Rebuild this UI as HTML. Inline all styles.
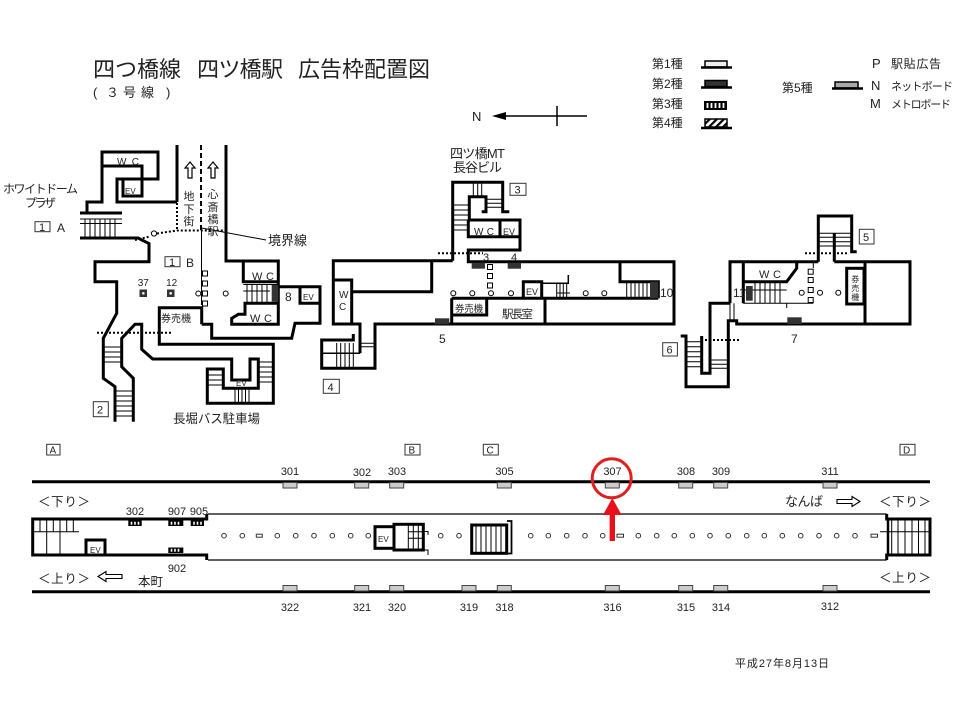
<!DOCTYPE html>
<html><head><meta charset="utf-8">
<style>
html,body{margin:0;padding:0;background:#fff;}
svg{display:block;}
text{font-family:"Liberation Sans","Noto Sans CJK JP",sans-serif;fill:#222;}
</style></head><body>
<svg width="960" height="720" viewBox="0 0 960 720" xmlns="http://www.w3.org/2000/svg">
<defs>
<pattern id="hatch" width="5" height="5" patternUnits="userSpaceOnUse" patternTransform="rotate(45)">
<rect width="5" height="5" fill="#fff"/><rect width="2.2" height="5" fill="#000"/>
</pattern>
</defs>
<rect width="960" height="720" fill="#fff"/>

<!-- Title -->
<text x="93" y="77" font-size="22" textLength="88">四つ橋線</text>
<text x="197" y="77" font-size="22" textLength="86">四ツ橋駅</text>
<text x="298" y="77" font-size="22" textLength="132">広告枠配置図</text>
<g font-size="13">
<text x="93" y="97">(</text><text x="106" y="97">３</text><text x="123" y="97">号</text><text x="141" y="97">線</text><text x="166" y="97">)</text>
</g>

<!-- North arrow -->
<text x="472" y="121" font-size="13">N</text>
<path d="M500,116 H587 M557,106 V126" stroke="#000" stroke-width="1.5" fill="none"/>
<polygon points="492,116 506,112 506,120" fill="#000"/>

<!-- Legend -->
<g font-size="12">
<text x="652" y="68">第1種</text>
<text x="652" y="88">第2種</text>
<text x="652" y="108">第3種</text>
<text x="652" y="127">第4種</text>
<text x="782" y="92">第5種</text>
<text x="872" y="68" font-size="13">P</text>
<text x="891" y="68" font-size="12" textLength="50">駅貼広告</text>
<text x="871" y="90" font-size="13">N</text>
<text x="891" y="90" font-size="11" textLength="62">ネットボード</text>
<text x="870" y="108" font-size="13">M</text>
<text x="891" y="108" font-size="11" textLength="60">メトロボード</text>
</g>
<rect x="705" y="61" width="22" height="6" fill="#eee" stroke="#000" stroke-width="1.5"/>
<path d="M701,67.5 H732" stroke="#000" stroke-width="2.5"/>
<rect x="705" y="80.5" width="22" height="6" fill="#333" stroke="#000" stroke-width="1.5"/>
<path d="M701,87.5 H732" stroke="#000" stroke-width="2.5"/>
<rect x="704" y="101" width="23" height="9" fill="#000"/>
<path d="M707.5,103 V108 M711.5,103 V108 M715.5,103 V108 M719.5,103 V108 M723.5,103 V108" stroke="#fff" stroke-width="1.8"/>
<rect x="705" y="119" width="22" height="8" fill="url(#hatch)" stroke="#000" stroke-width="1.5"/>
<path d="M701,128 H732" stroke="#000" stroke-width="2.5"/>
<rect x="835" y="82" width="23" height="6" fill="#aaa" stroke="#000" stroke-width="1.5"/>
<path d="M832,88.5 H863" stroke="#000" stroke-width="2.5"/>

<!-- ============ LEFT STRUCTURE ============ -->
<g fill="none" stroke="#000" stroke-width="3" stroke-linejoin="miter">
<path d="M87,213 V202 H102 V152 H158 V179 H117 V202 H177"/>
<path d="M177,145 V202"/>
<path d="M102,166 H142 V196 H123 V179"/>
<path d="M80,213 H122"/>
<path d="M80,238 H138 L149,243.5 V261.7 H95 V281.7 H116.7 V313.3 L103.3,338.3 V378.3 L115,386.7 V421.7"/>
<path d="M226,145 V261 H278.3 V324.3 H231.7 V318.3 L238.3,314.3 H245 V303.3 H278.3"/>
<path d="M278.3,286.7 H320 V323.3 H295 L291.7,338.3 H211.7 V324.3 H201.7"/>
<path d="M243.3,261 V281.7 H278.3"/>
<path d="M300,286.7 V303.3 H320"/>
<path d="M201.7,324.3 V307.7 H159.3 V344.3 H273.3 V403.3 H207.3 V369 H223.3 V388.3 H258.3 V359 H250 V380 H231.7 V359 H152.7 L141.7,349.3 V324.3 H135 L121.7,338.3 V366.7 L133.3,378.3 V421.7"/>
</g>
<!-- left thin details -->
<g fill="none" stroke="#000" stroke-width="1">
<path d="M80,219 H122 M80,223.5 H122"/>
<path d="M85,219 V237 M90,219 V237 M95,219 V237 M100,219 V237 M105,219 V237 M110,219 V237 M115,219 V237"/>
<path d="M103.3,347 H121.7 M103.3,352 H121.7 M103.3,357 H121.7 M103.3,362 H121.7"/>
<path d="M115,391 H133.3 M115,396 H133.3 M115,401 H133.3 M115,406 H133.3 M115,411 H133.3 M115,416 H133.3"/>
<path d="M207.3,375 H223.3 M207.3,380 H223.3 M207.3,385 H223.3"/>
<path d="M258.3,362 H273.3 M258.3,367 H273.3 M258.3,372 H273.3 M258.3,377 H273.3 M258.3,382 H273.3"/>
<path d="M235,388.3 V403 M238.5,388.3 V403 M242,388.3 V403 M245.5,388.3 V403 M249,388.3 V403"/>
<path d="M243.3,284.5 H278.3 M243.3,291 H270"/>
<path d="M247,285 V302 M252,285 V302 M257,285 V302 M262,285 V302 M267,285 V302"/>
<path d="M201.5,230 V305"/>
<path d="M201.7,228 L266,240"/>
</g>
<rect x="271.7" y="285" width="6.6" height="16.7" fill="#333"/>
<path d="M201,145 V230" stroke="#000" stroke-width="2" stroke-dasharray="5,3"/>
<path d="M177,203 V230" stroke="#000" stroke-width="2" stroke-dasharray="2,2"/>
<path d="M135,240 L149,236.7 M157,233.5 L177,230.5 H227" stroke="#000" stroke-width="2" stroke-dasharray="2,2" fill="none"/>
<circle cx="154" cy="233.5" r="2.6" fill="#fff" stroke="#000" stroke-width="1"/>
<path d="M97,332.7 H172" stroke="#000" stroke-width="2" stroke-dasharray="2,2"/>
<!-- up arrows -->
<g fill="#fff" stroke="#000" stroke-width="1.2">
<polygon points="190,162 195,168 192,168 192,178 188,178 188,168 185,168"/>
<polygon points="213,162 218,168 215,168 215,178 211,178 211,168 208,168"/>
</g>
<!-- concourse markers -->
<g fill="#fff" stroke="#000" stroke-width="1">
<rect x="202.5" y="271" width="5" height="5"/><rect x="202.5" y="281" width="5" height="5"/>
<rect x="202.5" y="291" width="5" height="5"/><rect x="202.5" y="301" width="5" height="5"/>
<circle cx="198.3" cy="293.5" r="2.5"/><circle cx="225.7" cy="293.5" r="2.5"/>
</g>
<rect x="139.5" y="289.5" width="7.5" height="7.5" fill="#333"/><circle cx="143.3" cy="293.3" r="1.3" fill="#fff"/>
<rect x="167" y="289.5" width="7.5" height="7.5" fill="#333"/><circle cx="170.7" cy="293.3" r="1.3" fill="#fff"/>
<g fill="#fff" stroke="#333" stroke-width="1">
<rect x="35" y="221.7" width="15" height="10"/>
<rect x="165" y="256.7" width="15" height="10"/>
<rect x="93.3" y="401.7" width="15" height="15"/>
</g>
<g font-size="11">
<text x="3" y="193" textLength="75" font-size="12">ホワイトドーム</text>
<text x="25" y="207" font-size="12" textLength="31">プラザ</text>
<text x="39" y="231" font-size="11">1</text><text x="57" y="232" font-size="12">A</text>
<text x="169" y="266" font-size="11">1</text><text x="186" y="267" font-size="12">B</text>
<text x="97" y="413.5" font-size="11">2</text>
<text x="117" y="165" font-size="10" textLength="22">W C</text>
<text x="125" y="194" font-size="8">EV</text>
<text x="189" y="200" font-size="11" text-anchor="middle">地</text>
<text x="189" y="213" font-size="11" text-anchor="middle">下</text>
<text x="189" y="225" font-size="11" text-anchor="middle">街</text>
<text x="213" y="198" font-size="11" text-anchor="middle">心</text>
<text x="213" y="211" font-size="11" text-anchor="middle">斎</text>
<text x="213" y="223" font-size="11" text-anchor="middle">橋</text>
<text x="213" y="235" font-size="11" text-anchor="middle">駅</text>
<text x="268" y="245" font-size="13" textLength="39">境界線</text>
<text x="143.3" y="286" font-size="10" text-anchor="middle" fill="#333">37</text>
<text x="171.7" y="286" font-size="10" text-anchor="middle" fill="#333">12</text>
<text x="252" y="280" font-size="11" textLength="22">W C</text>
<text x="250" y="322" font-size="11" textLength="22">W C</text>
<text x="285" y="301" font-size="12" fill="#444">8</text>
<text x="303" y="300" font-size="8">EV</text>
<text x="161" y="322" font-size="10" textLength="30">券売機</text>
<text x="236" y="386" font-size="8">EV</text>
<text x="173" y="423" font-size="12.5" textLength="87">長堀バス駐車場</text>
</g>

<!-- ============ MIDDLE STRUCTURE ============ -->
<g fill="none" stroke="#000" stroke-width="3">
<path d="M452.7,260.7 V182.3 H502.7 V211.7 H509.3"/>
<path d="M481.7,211.7 H486 V196.7 H469.3 V220"/>
<path d="M468.3,220 H520 V250 H468.3 V261.7 H674 V324 H375 V368.3 H321.7 V340 H353.3 V334"/>
<path d="M468.3,220 V236.7 H520 M500,220 V236.7"/>
<path d="M452.7,260.7 H333.3 V324 H360 V353.3"/>
<path d="M333.3,280 H351.7 V324"/>
<path d="M351.7,291.7 H431.7 V260.7"/>
<path d="M451.7,298.3 H658.3"/>
<path d="M451.7,324 V298.3 M451.7,315 H486.7 V298.3"/>
<path d="M545,298.3 V324"/>
<path d="M523.3,298.3 V281.7 H541.7 V298.3"/>
<path d="M620,261.7 V281.7 H658.3 V298.3"/>
</g>
<g fill="none" stroke="#000" stroke-width="1">
<path d="M473.3,182.3 V196.7 M477.7,182.3 V196.7 M481.7,182.3 V196.7"/>
<path d="M486,199.3 H502.7 M486,203.3 H502.7 M486,207.3 H502.7"/>
<path d="M452.7,205 H469.3 M452.7,210 H469.3 M452.7,215 H469.3 M452.7,220 H469.3 M452.7,225 H469.3 M452.7,230 H469.3"/>
<path d="M321.7,353.3 H360" stroke-width="1.5"/>
<path d="M336.7,343 V368 M340.7,343 V368 M345,343 V368 M349.3,343 V368 M353.3,343 V368"/>
<path d="M360,343.3 H375 M360,346.7 H375"/>
<path d="M541.7,283.3 H568.3 V275" stroke-width="1.5"/>
<path d="M556.7,283.3 V298 M560,283.3 V298 M563.3,283.3 V298 M566.7,283.3 V298 M556.7,293 H570"/>
<path d="M626.7,282 V298 M631,282 V298 M635,282 V298 M639,282 V298 M643,282 V298 M647,282 V298"/>
</g>
<path d="M438,253.3 H483" stroke="#000" stroke-width="2" stroke-dasharray="2,2"/>
<g fill="#333">
<rect x="471.7" y="262.7" width="13.3" height="6"/>
<rect x="507.7" y="262.7" width="13.3" height="6"/>
<rect x="435" y="318.3" width="14.3" height="6"/>
<rect x="650" y="281.7" width="8.3" height="16.6"/>
</g>
<g fill="#fff" stroke="#000" stroke-width="1">
<rect x="487.5" y="264.5" width="5" height="5"/><rect x="487.5" y="273.5" width="5" height="5"/><rect x="487.5" y="283" width="5" height="5"/>
<circle cx="453.3" cy="293.3" r="2.5"/><circle cx="472.3" cy="293.3" r="2.5"/><circle cx="491" cy="293.3" r="2.5"/><circle cx="511" cy="293.3" r="2.5"/>
<circle cx="585.7" cy="293.3" r="2.5"/><circle cx="604.3" cy="293.3" r="2.5"/>
<rect x="510" y="183.3" width="16" height="12" stroke="#333"/>
<rect x="323.3" y="379.3" width="16" height="14" stroke="#333"/>
</g>
<g font-size="11">
<text x="450" y="158" font-size="13" textLength="55">四ツ橋MT</text>
<text x="453" y="172" font-size="13" textLength="49">長谷ビル</text>
<text x="514.5" y="193.5">3</text>
<text x="327.5" y="391">4</text>
<text x="474" y="235" font-size="10" textLength="20">W C</text>
<text x="503" y="235" font-size="9">EV</text>
<text x="483" y="261" fill="#555">3</text>
<text x="511" y="261" fill="#555">4</text>
<text x="339" y="298" font-size="10">W</text>
<text x="339" y="310" font-size="10">C</text>
<text x="455" y="312" font-size="9.5" textLength="28">券売機</text>
<text x="502" y="318" font-size="11.5" textLength="31">駅長室</text>
<text x="526" y="295" font-size="9">EV</text>
<text x="439" y="343" font-size="12" fill="#555">5</text>
<text x="660" y="297" font-size="12" fill="#555">10</text>
</g>

<!-- ============ RIGHT STRUCTURE ============ -->
<g fill="none" stroke="#000" stroke-width="3">
<path d="M818.3,261.7 V216 H851.7 V251.7 H856.7"/>
<path d="M834.3,233.3 V261.7"/>
<path d="M730,303.3 V261.7 H818.3 M834.3,261.7 H910 V324 H736.7 V320.7 H728.3 V386.7 H686 V336 H680.7"/>
<path d="M730,303.3 H710 V373.3 H701.7 V336"/>
<path d="M865,261.7 V324"/>
<rect x="846.7" y="268.3" width="17.3" height="35.7"/>
<path d="M743.3,303.3 V261.7 M743.3,281.7 H786.7 L796.7,268.3 V261.7"/>
</g>
<g fill="none" stroke="#000" stroke-width="1">
<path d="M818.3,233.3 H851.7 M818.3,237.3 H851.7 M818.3,241.7 H851.7 M818.3,246 H851.7"/>
<path d="M743.3,290 H786.7 M743.3,303.3 H813.3 M813.3,261.7 V268 M786.7,303.3 V308"/>
<path d="M755,283 V303 M760,283 V303 M765,283 V303 M770,283 V303 M775,283 V303 M780,283 V303"/>
<path d="M730,303.3 V320.7 M734,303.3 V320.7"/>
<path d="M686,341.7 H701.7 M686,346.7 H701.7 M686,351.7 H701.7 M686,356.7 H701.7 M686,361.7 H701.7 M686,366.7 H701.7"/>
<path d="M710,360 H728.3 M710,364.3 H728.3 M710,368.3 H728.3"/>
</g>
<path d="M805,253.3 H848.3 M705,340 H740" stroke="#000" stroke-width="2" stroke-dasharray="2,2"/>
<g fill="#333">
<rect x="746" y="286" width="6.7" height="14.7"/>
<rect x="787.3" y="317.3" width="14.4" height="6.7"/>
</g>
<g fill="#fff" stroke="#000" stroke-width="1">
<rect x="808.2" y="269.2" width="5" height="5"/><rect x="808.2" y="277.5" width="5" height="5"/><rect x="808.2" y="287.5" width="5" height="5"/><rect x="808.2" y="297.5" width="5" height="5"/>
<circle cx="801.7" cy="292.7" r="2.5"/><circle cx="820" cy="292.7" r="2.5"/><circle cx="838.3" cy="292.7" r="2.5"/>
<rect x="859.3" y="229.3" width="14.7" height="14.7" stroke="#333"/>
<rect x="662.7" y="342.7" width="14.7" height="13.3" stroke="#333"/>
</g>
<g font-size="11">
<text x="863" y="241">5</text>
<text x="666.5" y="353.5">6</text>
<text x="759" y="278" font-size="11" textLength="22">W C</text>
<text x="733" y="297" font-size="12" fill="#555">11</text>
<text x="791" y="343" font-size="12" fill="#555">7</text>
<text x="855.3" y="282" font-size="8" text-anchor="middle">券</text>
<text x="855.3" y="291" font-size="8" text-anchor="middle">売</text>
<text x="855.3" y="300" font-size="8" text-anchor="middle">機</text>
</g>

<!-- ============ PLATFORM ============ -->
<g fill="#fff" stroke="#333" stroke-width="1">
<rect x="46.7" y="444.3" width="13.3" height="10.7"/>
<rect x="405" y="444.3" width="15" height="10.7"/>
<rect x="483.3" y="444.3" width="15" height="10.7"/>
<rect x="900" y="444.3" width="15" height="10.7"/>
</g>
<g font-size="10">
<text x="49.5" y="453.5">A</text>
<text x="408.5" y="453.5">B</text>
<text x="486.5" y="453.5">C</text>
<text x="903" y="453.5">D</text>
</g>
<path d="M32,481.7 H930 M32,591.7 H930" stroke="#000" stroke-width="3"/>
<path d="M208,514 H886.7 M208,560 H886.7" stroke="#000" stroke-width="1.3"/>
<g fill="none" stroke="#000" stroke-width="3">
<path d="M206.7,514 V519 H32.7 V555 H206.7 V560"/>
<path d="M886.7,514 V519 H930 V555 H886.7 V560"/>
<rect x="86" y="540" width="19" height="15"/>
<rect x="375" y="526.7" width="19" height="21.6"/>
<rect x="394" y="524.3" width="29.3" height="25.7"/>
<rect x="471.7" y="525" width="35" height="28.3"/>
</g>
<g fill="none" stroke="#000" stroke-width="1">
<path d="M32.7,531.7 H79"/>
<path d="M40,519 V531.7 M46.7,519 V555 M53.3,519 V531.7 M60,519 V555 M66.7,519 V531.7 M73.3,519 V531.7"/>
<path d="M880,531.7 H930"/>
<path d="M891.7,519 V555 M898,519 V555 M905,519 V555 M912,519 V555 M918.5,519 V555 M925,519 V555"/>
<path d="M408.3,525 V549 M413.3,525 V549 M418.3,525 V549 M408.3,531.7 H423 M408.3,538.3 H423"/>
<path d="M423.3,531.5 H428 V535 M423.3,550 H428 V555"/>
<path d="M476,525 V553 M481,525 V553 M486,525 V553 M491,525 V553 M496,525 V553 M501,525 V553"/>
</g>
<path d="M888,519 V555" stroke="#000" stroke-width="2.5"/>
<path d="M507,521 H511.5 V553.5 H507" stroke="#000" stroke-width="1.8" fill="none"/>
<!-- 3rd type small boxes -->
<g>
<rect x="128.3" y="520.5" width="13.4" height="5.5" fill="#000"/>
<rect x="168.3" y="520.5" width="15" height="5.5" fill="#000"/>
<rect x="190.7" y="520.5" width="13.3" height="5.5" fill="#000"/>
<rect x="168.3" y="547.5" width="15" height="5.5" fill="#000"/>
<path d="M131.5,521.8 V524.8 M135,521.8 V524.8 M138.5,521.8 V524.8 M171.5,521.8 V524.8 M175,521.8 V524.8 M178.5,521.8 V524.8 M194,521.8 V524.8 M197.5,521.8 V524.8 M201,521.8 V524.8 M171.5,548.8 V551.8 M175,548.8 V551.8 M178.5,548.8 V551.8" stroke="#fff" stroke-width="1.6"/>
</g>
<!-- ad boxes top & bottom -->
<g fill="#ccc" stroke="#444" stroke-width="1">
<rect x="283" y="482.5" width="14" height="5.5"/>
<rect x="354.7" y="482.5" width="14" height="5.5"/>
<rect x="389.7" y="482.5" width="14" height="5.5"/>
<rect x="497.3" y="482.5" width="14" height="5.5"/>
<rect x="605.3" y="482.5" width="14" height="5.5"/>
<rect x="678.7" y="482.5" width="14" height="5.5"/>
<rect x="713.7" y="482.5" width="14" height="5.5"/>
<rect x="823" y="482.5" width="14" height="5.5"/>
<rect x="283" y="585.5" width="14" height="5.5"/>
<rect x="354.7" y="585.5" width="14" height="5.5"/>
<rect x="389.7" y="585.5" width="14" height="5.5"/>
<rect x="462" y="585.5" width="14" height="5.5"/>
<rect x="497.3" y="585.5" width="14" height="5.5"/>
<rect x="605.3" y="585.5" width="14" height="5.5"/>
<rect x="678.7" y="585.5" width="14" height="5.5"/>
<rect x="713.7" y="585.5" width="14" height="5.5"/>
<rect x="823" y="585.5" width="14" height="5.5"/>
</g>
<g font-size="11" text-anchor="middle" fill="#333">
<text x="290" y="475">301</text>
<text x="362" y="476">302</text>
<text x="397" y="475">303</text>
<text x="504.5" y="475">305</text>
<text x="612.5" y="475">307</text>
<text x="686" y="475">308</text>
<text x="721" y="475">309</text>
<text x="830" y="475">311</text>
<text x="290" y="611">322</text>
<text x="362" y="611">321</text>
<text x="397" y="611">320</text>
<text x="469" y="611">319</text>
<text x="504.5" y="611">318</text>
<text x="612.5" y="611">316</text>
<text x="686" y="611">315</text>
<text x="721" y="611">314</text>
<text x="830" y="610">312</text>
<text x="135" y="515">302</text>
<text x="177" y="515">907</text>
<text x="199" y="515">905</text>
<text x="177" y="572">902</text>
</g>
<text x="90" y="553" font-size="8">EV</text>
<text x="378" y="542" font-size="8">EV</text>
<!-- platform circles -->
<g fill="#fff" stroke="#333" stroke-width="1">
<circle cx="224" cy="535.7" r="2.3"/><circle cx="242.3" cy="535.7" r="2.3"/>
<rect x="256.3" y="534.2" width="6" height="3"/>
<circle cx="277.3" cy="535.7" r="2.3"/><circle cx="295.7" cy="535.7" r="2.3"/><circle cx="314" cy="535.7" r="2.3"/>
<circle cx="332.3" cy="535.7" r="2.3"/><circle cx="350.7" cy="535.7" r="2.3"/><circle cx="368.3" cy="535.7" r="2.3"/>
<circle cx="440.7" cy="535.7" r="2.3"/><circle cx="459" cy="535.7" r="2.3"/>
<circle cx="530.7" cy="535.7" r="2.3"/><circle cx="548.3" cy="535.7" r="2.3"/><circle cx="566.7" cy="535.7" r="2.3"/>
<circle cx="585" cy="535.7" r="2.3"/><circle cx="602.7" cy="535.7" r="2.3"/>
<rect x="617" y="534.2" width="6.5" height="3"/>
<circle cx="638.3" cy="535.7" r="2.3"/><circle cx="656.7" cy="535.7" r="2.3"/><circle cx="674.3" cy="535.7" r="2.3"/>
<circle cx="692.3" cy="535.7" r="2.3"/><circle cx="710" cy="535.7" r="2.3"/><circle cx="728.3" cy="535.7" r="2.3"/>
<circle cx="746.7" cy="535.7" r="2.3"/><circle cx="764.3" cy="535.7" r="2.3"/><circle cx="782.3" cy="535.7" r="2.3"/>
<circle cx="800.7" cy="535.7" r="2.3"/><circle cx="819" cy="535.7" r="2.3"/><circle cx="836.7" cy="535.7" r="2.3"/>
<circle cx="855" cy="535.7" r="2.3"/>
<rect x="871" y="534.2" width="6.5" height="3"/>
</g>
<!-- direction labels -->
<g font-size="12.5">
<text x="38" y="506" textLength="52">＜下り＞</text>
<text x="38" y="583" textLength="52">＜上り＞</text>
<text x="879" y="506" textLength="52">＜下り＞</text>
<text x="879" y="582" textLength="52">＜上り＞</text>
<text x="785" y="506" font-size="13" textLength="38">なんば</text>
<text x="138" y="586" font-size="12.5" textLength="25">本町</text>
</g>
<g fill="#fff" stroke="#000" stroke-width="1.1">
<polygon points="860,501.5 852,496.5 852,499.5 837,499.5 837,503.5 852,503.5 852,506.5"/>
<polygon points="98,576.5 106,571.5 106,574.5 122,574.5 122,578.5 106,578.5 106,581.5"/>
</g>
<!-- red highlight -->
<circle cx="611.7" cy="478.3" r="19.5" fill="none" stroke="#e02020" stroke-width="3"/>
<polygon points="612.3,498 621.7,515 615,515 615,541 609.6,541 609.6,515 603,515" fill="#e8101a"/>

<text x="735" y="667" font-size="11" textLength="94">平成27年8月13日</text>
</svg>
</body></html>
